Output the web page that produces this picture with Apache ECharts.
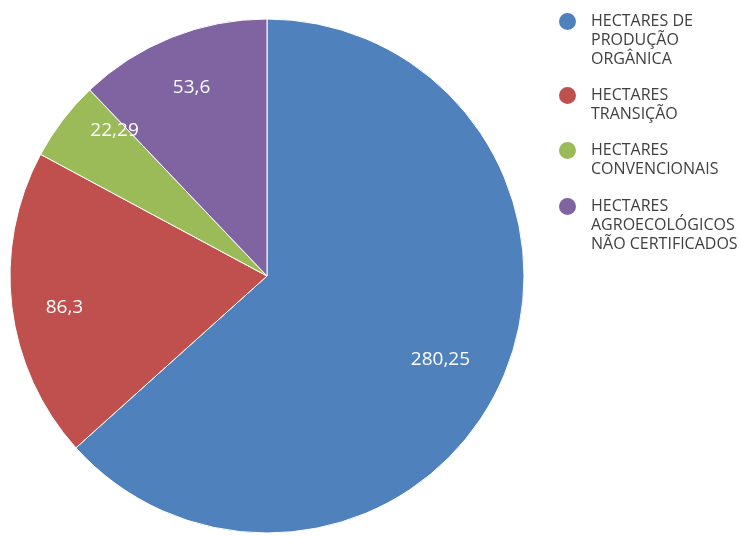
<!DOCTYPE html>
<html><head><meta charset="utf-8">
<script src="https://cdn.jsdelivr.net/npm/echarts@6/dist/echarts.min.js"></script>
<style>html,body{margin:0;padding:0;background:#fff}#c{width:740px;height:537px}</style>
</head><body><div id="c"></div>
<script>
const categories = ['HECTARES DE PRODUÇÃO ORGÂNICA', 'HECTARES TRANSIÇÃO', 'HECTARES CONVENCIONAIS', 'HECTARES AGROECOLÓGICOS NÃO CERTIFICADOS'];
const legendLines = [['HECTARES DE', 'PRODUÇÃO', 'ORGÂNICA'], ['HECTARES', 'TRANSIÇÃO'], ['HECTARES', 'CONVENCIONAIS'], ['HECTARES', 'AGROECOLÓGICOS', 'NÃO CERTIFICADOS']];
const values = [280.25, 86.3, 22.29, 53.6];
const colors = ['#4F81BD', '#C0504D', '#9BBB59', '#8064A2'];
const labelOffsets = [[-12, 1], [-1, 7], [9, -22], [0, 0]];

const LH = 19;
function legendBase(top, names) {
  return {
    orient: 'vertical',
    left: 557,
    top: top,
    padding: 0,
    itemGap: -2,
    itemWidth: 19,
    itemHeight: 19,
    icon: 'circle',
    selectedMode: false,
    formatter: function (name) {
      const lines = legendLines[categories.indexOf(name)];
      const pre = [];
      for (let k = 1; k < lines.length; k++) pre.push(' ');
      return pre.concat(lines).join('\n');
    },
    textStyle: { fontFamily: 'Open Sans', fontSize: 16, lineHeight: LH, color: '#404040', padding: [0, 0, 0, 9] },
    data: names
  };
}
const chart = echarts.init(document.getElementById('c'));
chart.setOption({
  animation: false,
  legend: [legendBase(-26, categories.slice(0, 3)), legendBase(159, categories.slice(3))],
  series: [{
    type: 'pie',
    center: [267, 276],
    radius: [0, 257],
    startAngle: 90,
    clockwise: true,
    silent: true,
    label: { show: false },
    labelLine: { show: false },
    itemStyle: { borderColor: '#fff', borderWidth: 1 },
    data: categories.map((n, i) => ({ name: n, value: values[i], itemStyle: { color: colors[i] } }))
  }, {
    type: 'pie',
    center: [267, 276],
    radius: [143, 257],
    startAngle: 90,
    clockwise: true,
    silent: true,
    label: {
      show: true, position: 'inside', color: '#fff', fontFamily: 'Open Sans', fontSize: 19,
      formatter: p => String(p.value).replace('.', ',')
    },
    labelLine: { show: false },
    itemStyle: { color: 'rgba(0,0,0,0)' },
    data: values.map((v, i) => ({ name: 'lbl' + i, value: v, label: { offset: labelOffsets[i] } }))
  }]
});
</script></body></html>
